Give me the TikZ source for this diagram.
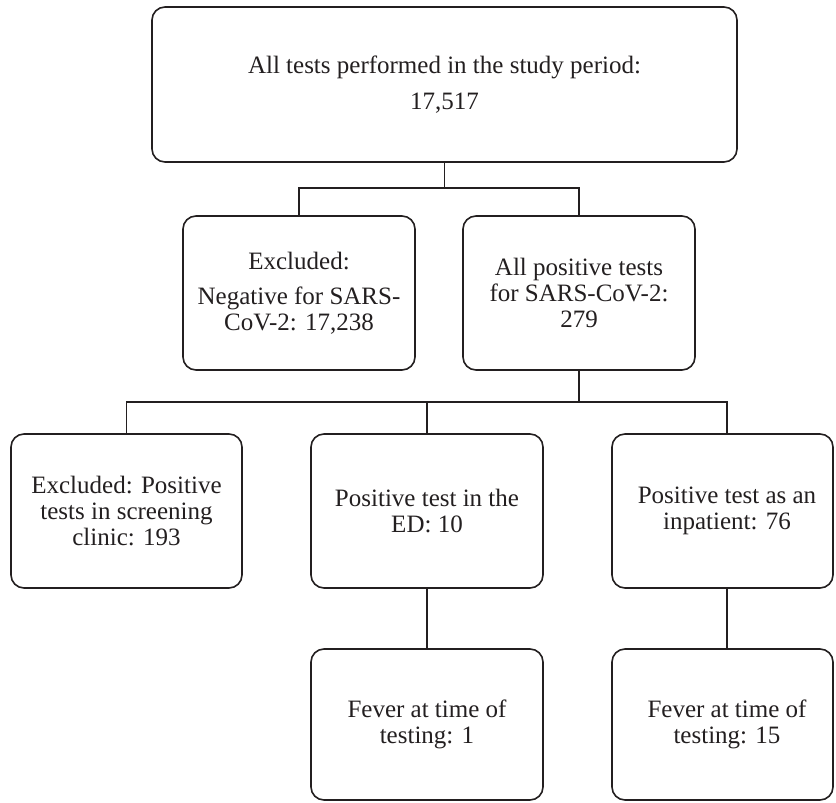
\documentclass[tikz,border=0pt]{standalone}
\usepackage{fontspec}
\setmainfont{Liberation Serif}
\definecolor{ink}{HTML}{231F20}
\begin{document}
\begin{tikzpicture}[x=1bp,y=-1bp,
  box/.style={draw=ink, line width=1.6bp, rounded corners=13bp, align=center,
    inner sep=0pt, text=ink, font=\fontsize{25bp}{26bp}\selectfont},
  link/.style={draw=ink, line width=1.6bp}]
\useasboundingbox (0,0) rectangle (836,803);
% boxes
\node[box, minimum width=585bp, minimum height=155bp] (top) at (444.5,84.5)
  {All tests performed in the study period:\\[10bp]17,517};
\node[box, minimum width=232bp, minimum height=154bp] (excl) at (299,293)
  {Excluded:\\[9.5bp]Negative for SARS-\\CoV-2: 17,238};
\node[box, minimum width=232bp, minimum height=154bp] (pos) at (579,293)
  {All positive tests\\for SARS-CoV-2:\\279};
\node[box, minimum width=231bp, minimum height=154bp] (scr) at (126.5,511)
  {Excluded: Positive\\tests in screening\\clinic: 193};
\node[box, minimum width=232bp, minimum height=154bp] (ed) at (427,511)
  {Positive test in the\\ED: 10};
\node[box, minimum width=221bp, minimum height=154bp] (inp) at (722.5,511)
  {\hspace*{9bp}Positive test as an\\\hspace*{9bp}inpatient: 76};
\node[box, minimum width=232bp, minimum height=151bp] (fev1) at (427,724.5)
  {Fever at time of\\testing: 1};
\node[box, minimum width=221bp, minimum height=151bp] (fev2) at (722.5,724.5)
  {\hspace*{9bp}Fever at time of\\\hspace*{9bp}testing: 15};
% connectors
\coordinate (j1) at (444.5,188);
\draw[link] (top.south) -- (j1);
\draw[link] (excl.north) |- (j1) -| (pos.north);
\coordinate (j2) at (579,402);
\coordinate (c3) at (727,402);
\draw[link] (pos.south) -- (j2);
\draw[link] (scr.north) |- (j2) -- (c3) -- (c3 |- inp.north);
\draw[link] (ed.north) -- (ed.north |- j2);
\draw[link] (ed.south) -- (fev1.north);
\draw[link] (c3 |- inp.south) -- (c3 |- fev2.north);
\end{tikzpicture}
\end{document}
